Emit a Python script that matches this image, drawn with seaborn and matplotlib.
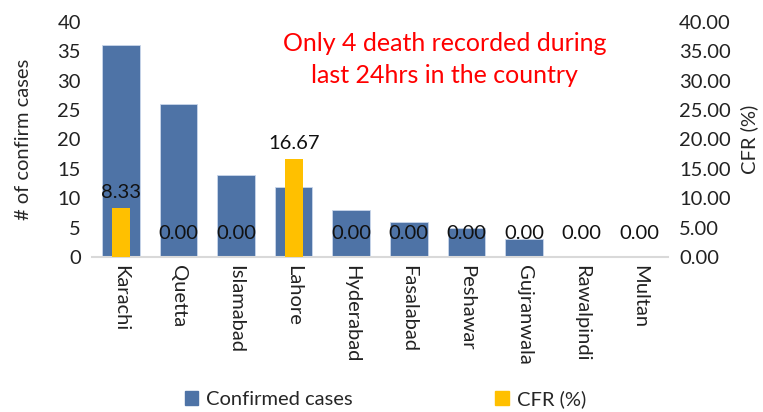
import matplotlib
matplotlib.use("Agg")
import matplotlib.pyplot as plt
import seaborn as sns
import pandas as pd
from matplotlib.patches import Patch

# chart data
cities = ["Karachi", "Quetta", "Islamabad", "Lahore", "Hyderabad",
          "Fasalabad", "Peshawar", "Gujranwala", "Rawalpindi", "Multan"]
confirmed = [36, 26, 14, 12, 8, 6, 5, 3, 0, 0]
cfr = [8.33, 0.00, 0.00, 16.67, 0.00, 0.00, 0.00, 0.00, 0.00, 0.00]

df = pd.DataFrame({"City": cities, "Confirmed": confirmed, "CFR": cfr})

sns.set_theme(style="white")
plt.rcParams["font.family"] = ["Lato", "DejaVu Sans"]

blue = "#4E73A6"
gold = "#FFC000"
fs = 14.5

fig = plt.figure(figsize=(7.63, 4.12), dpi=100)
ax = fig.add_axes([0.1206, 0.376, 0.7549, 0.571])

sns.barplot(data=df, x="City", y="Confirmed", ax=ax, color=blue,
            width=0.65, saturation=1, edgecolor="#C9D6EA", linewidth=0.6)
ax2 = ax.twinx()
sns.barplot(data=df, x="City", y="CFR", ax=ax2, color=gold,
            width=0.31, saturation=1, linewidth=0)

ax.set_ylim(0, 40)
ax2.set_ylim(0, 40)
ax.set_xlim(-0.5, len(cities) - 0.5)
ax.set_yticks(range(0, 41, 5))
ax2.set_yticks(range(0, 41, 5))
ax2.set_yticklabels([f"{v:.2f}" for v in range(0, 41, 5)])

for a in (ax, ax2):
    for s in a.spines.values():
        s.set_visible(False)
    a.tick_params(axis="y", length=0, labelsize=fs, colors="#222222")
ax.spines["bottom"].set_visible(True)
ax.spines["bottom"].set_color("#D9D9D9")
ax.spines["bottom"].set_linewidth(1.5)

ax.tick_params(axis="y", pad=8)
ax2.tick_params(axis="y", pad=8)
ax.tick_params(axis="x", length=0, labelsize=fs, pad=6, colors="#222222")
ax.set_xticks(range(len(cities)))
ax.set_xticklabels(cities, rotation=270, va="top", ha="center")

ax.set_xlabel("")
ax.set_ylabel("# of confirm cases", fontsize=fs, labelpad=18)
ax2.set_ylabel("CFR (%)", fontsize=fs, labelpad=7)

# data labels on CFR bars
for i, v in enumerate(cfr):
    off = 5 if v > 0 else 11
    ax2.annotate(f"{v:.2f}", xy=(i, v), xytext=(0, off),
                 textcoords="offset points", ha="center", va="bottom",
                 fontsize=fs, color="#111111")

fig.text(0.583, 0.856, "Only 4 death recorded during\nlast 24hrs in the country",
         ha="center", va="center", color="#FF0000", fontsize=18,
         linespacing=1.5)

handles = [Patch(color=blue, label="Confirmed cases"),
           Patch(color=gold, label="CFR (%)")]
fig.legend(handles=handles, loc="lower center", ncol=2, frameon=False,
           bbox_to_anchor=(0.505, -0.035), fontsize=fs, columnspacing=7.1,
           handlelength=0.65, handleheight=0.65, handletextpad=0.4)

fig.savefig("out.png", dpi=100)
